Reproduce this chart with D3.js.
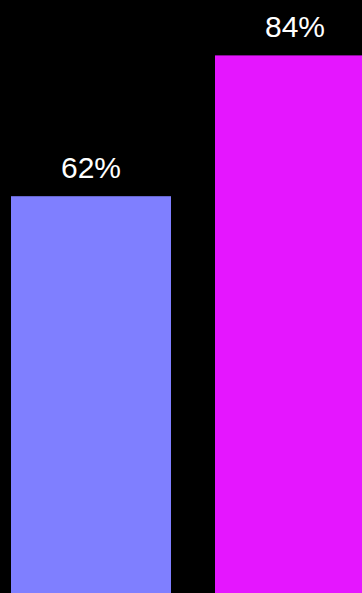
<!DOCTYPE html>
<html><head><meta charset="utf-8">
<script src="https://cdn.jsdelivr.net/npm/d3@7"></script>
<style>html,body{margin:0;padding:0;background:#000;overflow:hidden}</style>
</head><body>
<script>
const categories = ["A", "B"];
const values = [62, 84];
const colors = ["#7f7fff", "#e516ff"];

const W = 362, H = 593;
const svg = d3.select("body").append("svg").attr("width", W).attr("height", H)
  .style("display", "block").style("background", "#000");

const x = d3.scaleBand().domain(categories).range([11, 375]).paddingInner(44 / 204).paddingOuter(0);
const y = d3.scaleLinear().domain([0, 100]).range([H, H - 640]);

svg.selectAll("rect").data(values).join("rect")
  .attr("x", (d, i) => x(categories[i]))
  .attr("width", x.bandwidth())
  .attr("y", d => y(d))
  .attr("height", d => H - y(d))
  .attr("fill", (d, i) => colors[i]);

svg.selectAll("text").data(values).join("text")
  .attr("x", (d, i) => x(categories[i]) + x.bandwidth() / 2)
  .attr("y", d => y(d) - 18)
  .attr("text-anchor", "middle")
  .attr("fill", "#fff")
  .style("font-family", "'Liberation Sans', Arial, sans-serif")
  .style("font-size", "30px")
  .text(d => d + "%");
</script>
</body></html>
